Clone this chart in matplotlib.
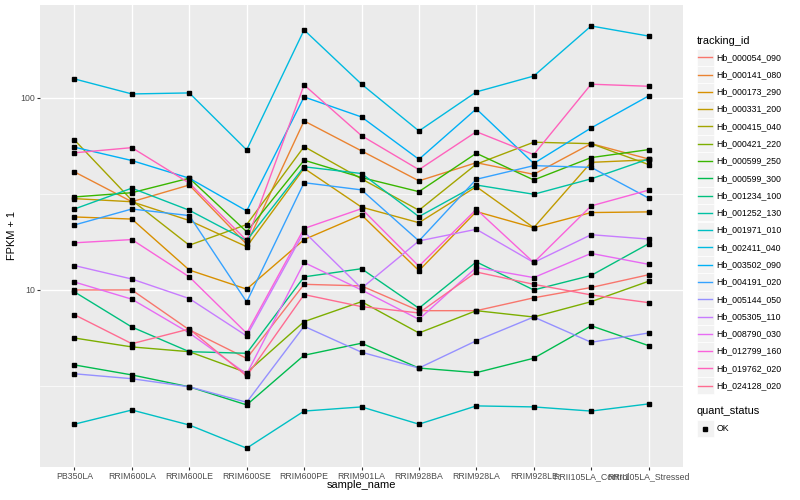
"""
FPKM profiles of selected transcripts across rubber tree samples
"""

import numpy as np  # pylint: disable=import-error
import matplotlib
matplotlib.use("Agg")
import matplotlib.pyplot as plt  # pylint: disable=import-error
from matplotlib.patches import Rectangle
from matplotlib.lines import Line2D
from matplotlib.ticker import FixedLocator, NullFormatter

plt.rcParams['font.family'] = ['Liberation Sans', 'DejaVu Sans']

samples = ['PB350LA', 'RRIM600LA', 'RRIM600LE', 'RRIM600SE', 'RRIM600PE',
           'RRIM901LA', 'RRIM928BA', 'RRIM928LA', 'RRIM928LE',
           'RRII105LA_Control', 'RRII105LA_Stressed']

tracking_ids = ['Hb_000054_090', 'Hb_000141_080', 'Hb_000173_290', 'Hb_000331_200',
                'Hb_000415_040', 'Hb_000421_220', 'Hb_000599_250', 'Hb_000599_300',
                'Hb_001234_100', 'Hb_001252_130', 'Hb_001971_010', 'Hb_002411_040',
                'Hb_003502_090', 'Hb_004191_020', 'Hb_005144_050', 'Hb_005305_110',
                'Hb_008790_030', 'Hb_012799_160', 'Hb_019762_020', 'Hb_024128_020']

# FPKM + 1 per sample, one list per transcript
hb_000054_090 = [10.0, 10.0, 6.2, 4.4, 10.7, 10.5, 7.8, 7.8, 9.1, 10.3, 12.0]
hb_000141_080 = [41.2, 28.8, 35.2, 17.3, 75.9, 53.0, 37.0, 46.0, 40.0, 57.8, 48.1]
hb_000173_290 = [24.0, 23.4, 12.7, 10.1, 18.3, 24.6, 12.6, 25.6, 21.1, 25.3, 25.5]
hb_000331_200 = [29.9, 28.8, 23.0, 16.8, 43.0, 27.0, 22.4, 34.5, 21.1, 46.2, 47.6]
hb_000415_040 = [60.4, 29.3, 17.1, 21.9, 55.8, 37.9, 26.0, 45.2, 58.8, 57.8, 45.0]
hb_000421_220 = [5.62, 5.05, 4.77, 3.71, 6.84, 8.69, 5.97, 7.80, 7.23, 8.69, 11.1]
hb_000599_250 = [30.5, 32.1, 38.2, 20.1, 47.4, 38.5, 32.5, 51.5, 37.4, 48.9, 53.8]
hb_000599_300 = [4.07, 3.61, 3.13, 2.52, 4.57, 5.28, 3.92, 3.71, 4.41, 6.51, 5.13]
hb_001234_100 = [9.77, 6.41, 4.77, 4.68, 11.7, 12.9, 8.03, 14.0, 10.0, 11.9, 17.4]
hb_001252_130 = [26.4, 33.9, 26.0, 18.1, 43.8, 40.4, 24.1, 35.2, 31.5, 37.9, 48.1]
hb_001971_010 = [2.00, 2.37, 1.98, 1.50, 2.34, 2.46, 2.00, 2.49, 2.46, 2.34, 2.55]
hb_002411_040 = [125.6, 104.9, 106.2, 53.6, 226.0, 118.0, 67.3, 107.5, 130.0, 237.0, 210.0]
hb_003502_090 = [55.4, 47.2, 38.2, 25.8, 101.2, 79.6, 47.9, 87.7, 45.6, 69.8, 102.4]
hb_004191_020 = [21.8, 26.4, 24.4, 8.66, 36.2, 33.2, 18.0, 37.7, 44.4, 43.5, 30.1]
hb_005144_050 = [3.66, 3.45, 3.13, 2.60, 6.47, 4.74, 3.92, 5.44, 7.23, 5.34, 5.97]
hb_005305_110 = [13.4, 11.4, 9.02, 5.76, 20.1, 10.2, 18.0, 20.7, 13.9, 19.4, 18.4]
hb_008790_030 = [11.0, 8.95, 5.97, 3.65, 13.9, 10.0, 7.03, 13.1, 11.6, 15.5, 13.6]
hb_012799_160 = [17.6, 18.3, 11.7, 5.95, 20.9, 26.5, 13.3, 26.3, 13.9, 27.4, 33.1]
hb_019762_020 = [51.8, 55.1, 36.0, 18.1, 116.9, 63.6, 42.3, 66.7, 50.7, 117.9, 115.0]
hb_024128_020 = [7.43, 5.25, 6.26, 3.56, 9.46, 8.19, 7.59, 12.4, 10.7, 9.42, 8.59]

series = [hb_000054_090, hb_000141_080, hb_000173_290, hb_000331_200, hb_000415_040,
          hb_000421_220, hb_000599_250, hb_000599_300, hb_001234_100, hb_001252_130,
          hb_001971_010, hb_002411_040, hb_003502_090, hb_004191_020, hb_005144_050,
          hb_005305_110, hb_008790_030, hb_012799_160, hb_019762_020, hb_024128_020]

# ggplot default hue palette for 20 levels
palette = ['#F8766D', '#EA8331', '#D89000', '#C09B00', '#A3A500', '#7CAE00',
           '#39B600', '#00BB4E', '#00BF7D', '#00C1A3', '#00BFC4', '#00BAE0',
           '#00B0F6', '#35A2FF', '#9590FF', '#C77CFF', '#E76BF3', '#FA62DB',
           '#FF62BC', '#FF6C91']

W, H = 800, 500


def fx(px):
    return px / W


def fy(py):
    return 1 - py / H


def main():
    fig = plt.figure(figsize=(8, 5), dpi=100)
    ax = fig.add_axes([fx(40), fy(467), fx(643), 462 / H])
    ax.set_facecolor('#EBEBEB')

    x = np.arange(len(samples))
    for vals, col in zip(series, palette):
        ax.plot(x, vals, color=col, lw=1.0, zorder=3)
    for vals in series:
        ax.plot(x, vals, 's', color='black', ms=3, ls='none', zorder=4)

    ax.set_yscale('log')
    ax.set_ylim(10 ** 0.078, 10 ** 2.484)
    ax.set_xlim(-0.6, len(samples) - 0.4)
    ax.set_xticks(x)
    ax.set_xticklabels(samples)
    ax.yaxis.set_major_locator(FixedLocator([10, 100]))
    ax.set_yticklabels(['10', '100'])
    ax.yaxis.set_minor_locator(FixedLocator([10 ** 0.5, 10 ** 1.5, 10 ** 2.5]))
    ax.yaxis.set_minor_formatter(NullFormatter())
    ax.grid(which='major', color='white', lw=1.0)
    ax.grid(which='minor', axis='y', color='white', lw=0.5)
    ax.set_axisbelow(True)
    ax.tick_params(which='minor', length=0)
    ax.tick_params(which='major', length=2, width=0.8, color='#333333',
                   labelsize=6.3, labelcolor='#4D4D4D', pad=1.6)
    for spine in ax.spines.values():
        spine.set_visible(False)

    fig.text(fx(361), fy(485), 'sample_name', fontsize=7.9, ha='center', va='center')
    fig.text(fx(12), fy(236), 'FPKM + 1', fontsize=7.9, ha='center', va='center',
             rotation=90)

    # legend: tracking_id
    fig.text(fx(696.5), fy(40.5), 'tracking_id', fontsize=7.9, ha='left', va='center')
    for i, (name, col) in enumerate(zip(tracking_ids, palette)):
        cy = 57.3 + 17.28 * i
        fig.patches.append(Rectangle((fx(696.5), fy(cy + 8.6)), 17.2 / W, 17.2 / H,
                                     transform=fig.transFigure, facecolor='#F2F2F2',
                                     edgecolor='white', lw=0.5))
        fig.lines.append(Line2D([fx(698.2), fx(712)], [fy(cy), fy(cy)],
                                transform=fig.transFigure, color=col, lw=1.0))
        fig.text(fx(716.5), fy(cy), name, fontsize=6.3, ha='left', va='center')

    # legend: quant_status
    fig.text(fx(696.5), fy(411.5), 'quant_status', fontsize=7.9, ha='left', va='center')
    cy = 428.5
    fig.patches.append(Rectangle((fx(696.5), fy(cy + 8.6)), 17.2 / W, 17.2 / H,
                                 transform=fig.transFigure, facecolor='#F2F2F2',
                                 edgecolor='white', lw=0.5))
    fig.lines.append(Line2D([fx(705)], [fy(cy)], transform=fig.transFigure,
                            marker='s', color='black', ms=3, ls='none'))
    fig.text(fx(716.5), fy(cy), 'OK', fontsize=6.3, ha='left', va='center')

    fig.savefig('out.png', dpi=100)


if __name__ == "__main__":
    main()
